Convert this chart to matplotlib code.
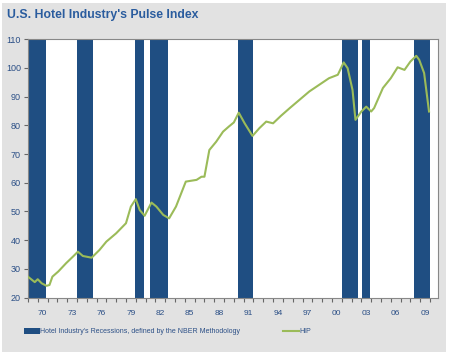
import matplotlib
matplotlib.use("Agg")
import matplotlib.pyplot as plt
from matplotlib.patches import Rectangle
from matplotlib import font_manager

# HIP index (x = fractional year on the category axis)
hip_years = [1969.0, 1969.7, 1970.0, 1970.4, 1970.9, 1971.2, 1971.5, 1972.1, 1972.9,
             1973.6, 1974.1, 1974.6, 1975.5, 1976.3, 1977.0, 1978.0, 1979.0, 1979.5,
             1980.0, 1980.4, 1980.9, 1981.6, 1982.1, 1982.8, 1983.4, 1984.1, 1985.1,
             1986.2, 1986.7, 1987.0, 1987.5, 1988.2, 1988.9, 1989.5, 1990.0, 1990.5,
             1991.1, 1991.9, 1992.6, 1993.3, 1994.0, 1994.8, 1995.7, 1996.7, 1997.7,
             1998.7, 1999.7, 2000.6, 2001.2, 2001.6, 2002.1, 2002.4, 2003.0, 2003.5,
             2004.0, 2004.3, 2005.2, 2006.0, 2006.7, 2007.4, 2008.0, 2008.6, 2008.9,
             2009.4, 2009.9]
hip_values = [27.3, 25.4, 26.4, 25.0, 24.1, 24.4, 27.3, 29.1, 32.0,
              34.3, 36.0, 34.5, 33.9, 36.6, 39.5, 42.4, 45.9, 51.7,
              54.3, 50.5, 48.5, 53.1, 51.7, 48.8, 47.6, 51.7, 60.4,
              61.0, 62.1, 62.1, 71.4, 74.3, 77.8, 79.6, 81.0, 84.4,
              80.7, 76.3, 79.0, 81.3, 80.7, 83.3, 86.0, 88.9, 91.8,
              94.1, 96.4, 97.6, 101.9, 99.9, 92.3, 81.9, 84.8, 86.5,
              84.8, 86.0, 93.0, 96.4, 100.2, 99.3, 102.2, 104.2, 102.8,
              98.2, 84.8]

# hotel industry recessions (start, end)
rec_start = [1969.0, 1974.0, 1979.9, 1981.4, 1990.4, 2001.05, 2003.1, 2008.4]
rec_end = [1970.8, 1975.6, 1980.8, 1983.3, 1992.0, 2002.7, 2003.9, 2010.0]

label_years = list(range(1970, 2010, 3))
y_ticks = list(range(20, 111, 10))

names = {f.name for f in font_manager.fontManager.ttflist}
narrow = "Liberation Sans Narrow" if "Liberation Sans Narrow" in names else "Liberation Sans"
plt.rcParams["font.family"] = [narrow, "DejaVu Sans"]

navy = "#1f4e82"
green = "#9bbb59"
txt = "#2b4f86"

fig = plt.figure(figsize=(4.5, 3.56), dpi=100)
fig.patch.set_facecolor("white")
fig.patches.append(Rectangle((0.004, 0.011), 0.988, 0.98, transform=fig.transFigure,
                             facecolor="#e2e2e2", edgecolor="none", zorder=-10))

ax = fig.add_axes([0.062, 0.164, 0.911, 0.726])
ax.set_facecolor("white")

for s, e in zip(rec_start, rec_end):
    ax.axvspan(s, e, ymin=0, ymax=1, facecolor=navy, edgecolor="none", zorder=1,
               label="Hotel Industry's Recessions, defined by the NBER Methodology" if s == rec_start[0] else None)

ax.plot(hip_years, hip_values, color=green, lw=1.5, zorder=3, label="HIP")

ax.set_xlim(1969, 2010.8)
ax.set_ylim(20, 110)
ax.set_yticks(y_ticks)
ax.set_yticklabels([str(v) for v in y_ticks], fontsize=6.5, color=txt)
ax.set_xticks(range(1969, 2011))
ax.set_xticklabels([])
ax.set_xticks([y + 0.5 for y in label_years], minor=True)
ax.set_xticklabels([str(y)[2:] for y in label_years], minor=True, fontsize=6, color=txt)
ax.tick_params(axis="x", which="minor", length=0, pad=9)
ax.tick_params(axis="x", which="major", length=3, color="#666666", direction="out")
ax.tick_params(axis="y", length=3, color="#666666", pad=2)
for sp in ax.spines.values():
    sp.set_color("#888888")
    sp.set_linewidth(0.8)

fig.text(0.016, 0.958, "U.S. Hotel Industry's Pulse Index", fontsize=8.8, fontweight="bold",
         color="#2a5c9e", va="center", ha="left")

handles, labels = ax.get_legend_handles_labels()
fig.legend(handles, labels, loc="center left", bbox_to_anchor=(0.04, 0.068), ncol=2,
           frameon=False, fontsize=5, labelcolor=txt, columnspacing=6.2, handlelength=2.2,
           handleheight=0.8, handletextpad=0.1)

fig.savefig("out.png", dpi=100)
